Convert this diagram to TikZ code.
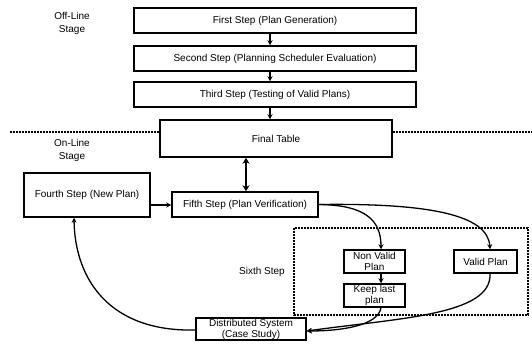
\documentclass[tikz,border=0pt]{standalone}
\usepackage{fontspec}
\setmainfont{Liberation Sans}
\usetikzlibrary{arrows.meta}
\begin{document}
\begin{tikzpicture}[x=1pt,y=-1pt,
  stepbox/.style={draw,line width=1.5pt,inner sep=0pt,font=\fontsize{10}{12}\selectfont},
  smallbox/.style={draw,line width=1.5pt,inner sep=0pt,align=center,font=\fontsize{10}{11}\selectfont},
  lbl/.style={align=center,font=\fontsize{10}{13.5}\selectfont},
  conn/.style={line width=1.3pt,-{Stealth[length=5pt,width=5pt]}},
  sep/.style={line width=1.4pt,dash pattern=on 2pt off 1pt}]
\useasboundingbox (0,0) rectangle (532,343);
\node[stepbox,minimum width=282pt,minimum height=25pt] (first) at (275,20.5) {First Step (Plan Generation)};
\node[stepbox,minimum width=282pt,minimum height=25pt] (second) at (275,58.5) {Second Step (Planning Scheduler Evaluation)};
\node[stepbox,minimum width=282pt,minimum height=25pt] (third) at (275,94.5) {Third Step (Testing of Valid Plans)};
\node[stepbox,minimum width=232pt,minimum height=37pt] (final) at (276,138.5) {Final Table};
\node[stepbox,minimum width=126pt,minimum height=44pt] (fourth) at (87,195) {Fourth Step (New Plan)};
\node[stepbox,minimum width=146pt,minimum height=25pt] (fifth) at (245,204.5) {Fifth Step (Plan Verification)};
\node[smallbox,minimum width=61pt,minimum height=23pt] (nonvalid) at (374.5,261.5) {Non Valid\\Plan};
\node[smallbox,minimum width=61pt,minimum height=23pt] (keep) at (374.5,295.5) {Keep last\\plan};
\node[smallbox,minimum width=63pt,minimum height=23pt] (valid) at (485.5,261.5) {Valid Plan};
\node[smallbox,minimum width=110pt,minimum height=22pt] (dist) at (251,329) {Distributed System\\(Case Study)};
\node[lbl] (offline) at (72,23.5) {Off-Line\\Stage};
\node[lbl] (online) at (72,150.5) {On-Line\\Stage};
\node[lbl] (sixth) at (262,272) {Sixth Step};
\coordinate (sepL) at (10,132);
\coordinate (sepR) at (532,132);
\draw[sep] (sepL) -- (sepL -| final.west);
\draw[sep] (sepR -| final.east) -- (sepR);
\draw[sep] (294,228) rectangle (528,315);
\draw[conn] (first.south -| 270,0) -- (second.north -| 270,0);
\draw[conn] (second.south -| 270,0) -- (third.north -| 270,0);
\draw[conn] (third.south -| 270,0) -- (final.north -| 270,0);
\draw[line width=1.5pt,{Stealth[length=6pt,width=7pt]}-{Stealth[length=6pt,width=7pt]}] (final.south -| 246,0) -- (fifth.north -| 246,0);
\draw[conn] (fourth.east |- 0,205) -- (fifth.west |- 0,205);
\draw[conn] (fifth.east) .. controls (365,205) and (381,220) .. (nonvalid.north -| 381,0);
\draw[conn] (fifth.east) .. controls (430,203) and (488,215) .. (valid.north -| 490,0);
\draw[conn] (nonvalid.south -| 381,0) -- (keep.north -| 381,0);
\draw[conn] (keep.south -| 381,0) .. controls (378,326) and (340,331) .. (dist.east |- 0,331);
\draw[conn] (valid.south -| 490,0) .. controls (492,315) and (400,318) .. (dist.east |- 0,331);
\draw[conn] (dist.west |- 0,330) .. controls (110,332) and (75,280) .. (fourth.south -| 74,0);
\end{tikzpicture}
\end{document}
